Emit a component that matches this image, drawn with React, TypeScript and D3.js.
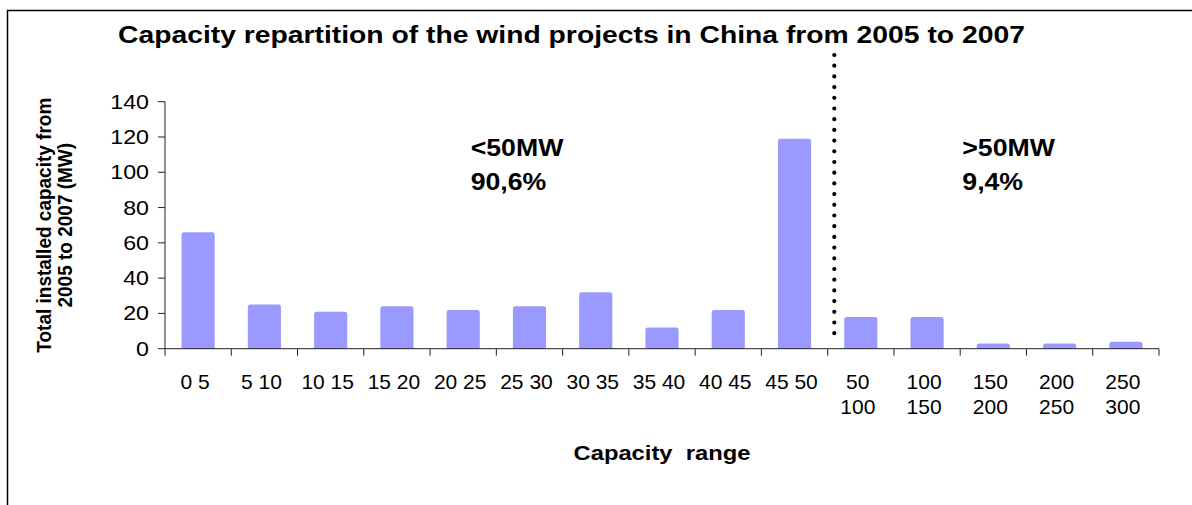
import React from "react";
import * as d3 from "d3";

// Capacity ranges (MW), each split into the lines shown under the axis
const categories = ["0-5", "5-10", "10-15", "15-20", "20-25", "25-30", "30-35", "35-40", "40-45", "45-50", "50-100", "100-150", "150-200", "200-250", "250-300"];
const categoryLines = [
  ["0 5"], ["5 10"], ["10 15"], ["15 20"], ["20 25"], ["25 30"], ["30 35"], ["35 40"], ["40 45"], ["45 50"],
  ["50", "100"], ["100", "150"], ["150", "200"], ["200", "250"], ["250", "300"],
];
// Total installed capacity 2005-2007 (MW)
const capacity = [66, 25, 21, 24, 22, 24, 32, 12, 22, 119, 18, 18, 3, 3, 4];
const yTicks = [0, 20, 40, 60, 80, 100, 120, 140];

const title = "Capacity repartition of the wind projects in China from 2005 to 2007";
const yTitleLines = ["Total installed capacity from", "2005 to 2007 (MW)"];
const xTitle = "Capacity  range";
const smallShare = ["<50MW", "90,6%"];
const largeShare = [">50MW", "9,4%"];
const splitIndex = 10; // first category above 50 MW

const W = 1192;
const H = 505;
const SX = 1.16; // horizontal text stretch
const FONT = "'Liberation Sans', Arial, sans-serif";
const BAR = "#9999ff";

function Label({ x, y, size, bold = false, anchor = "start", rotate = false, sx = SX, children }: any) {
  return (
    <text
      transform={`translate(${x},${y}) scale(${sx},1)${rotate ? " rotate(-90)" : ""}`}
      fontFamily={FONT}
      fontSize={size}
      fontWeight={bold ? "bold" : "normal"}
      textAnchor={anchor}
      fill="#000"
      style={{ whiteSpace: "pre" }}
    >
      {children}
    </text>
  );
}

function topRounded(x: number, y: number, w: number, h: number, r: number) {
  const rr = Math.min(r, h / 2, w / 2);
  return `M${x},${y + h}V${y + rr}Q${x},${y} ${x + rr},${y}H${x + w - rr}Q${x + w},${y} ${x + w},${y + rr}V${y + h}Z`;
}

export default function App() {
  const x = d3.scaleBand<string>().domain(categories).range([165, 1159]).paddingInner(0.5).paddingOuter(0.25);
  const y = d3.scaleLinear().domain([0, 140]).range([348.7, 101.7]);
  const step = x.step();
  const x0 = x.range()[0];
  const x1 = x.range()[1];
  const boundaries = d3.range(categories.length + 1).map((i) => x0 + i * step);
  const y0 = y(0);
  const splitX = boundaries[splitIndex] + step * 0.1;
  const yMid = (y(140) + y0) / 2;

  return (
    <svg width={W} height={H} style={{ position: "absolute", left: 0, top: 0, background: "#fff" }}>
      <rect x={7.5} y={10.5} width={W + 20} height={H + 20} fill="#fff" stroke="#000" strokeWidth={1.5} />

      <Label x={118} y={42.5} size={24.4} bold>{title}</Label>

      {/* bars */}
      {capacity.map((v, i) => (
        <path key={i} d={topRounded(x(categories[i])!, y(v), x.bandwidth(), y0 - y(v), 2.5)} fill={BAR} />
      ))}

      {/* y axis */}
      <line x1={x0} x2={x0} y1={y(140)} y2={y0} stroke="#222" strokeWidth={1} />
      {yTicks.map((t) => (
        <g key={t}>
          <line x1={x0 - 7} x2={x0} y1={y(t)} y2={y(t)} stroke="#222" strokeWidth={1} />
          <Label x={149} y={y(t) + 7} size={20} anchor="end">{t}</Label>
        </g>
      ))}

      {/* x axis */}
      <line x1={x0} x2={x1} y1={y0} y2={y0} stroke="#222" strokeWidth={1} />
      {boundaries.map((b, i) => (
        <line key={i} x1={b} x2={b} y1={y0} y2={y0 + 7} stroke="#222" strokeWidth={1} />
      ))}
      {categoryLines.map((lines, i) =>
        lines.map((ln, j) => (
          <Label key={`${i}-${j}`} x={x(categories[i])! + x.bandwidth() / 2 - 3} y={389 + j * 25} size={20} sx={1.05} anchor="middle">{ln}</Label>
        ))
      )}

      <Label x={(x0 + x1) / 2} y={460} size={20.5} bold anchor="middle">{xTitle}</Label>
      <Label x={51} y={yMid} size={19} bold anchor="middle" sx={1.05} rotate>{yTitleLines[0]}</Label>
      <Label x={72} y={yMid} size={19} bold anchor="middle" sx={1.05} rotate>{yTitleLines[1]}</Label>

      {/* split between small and large projects */}
      <line x1={splitX} x2={splitX} y1={55} y2={334} stroke="#000" strokeWidth={4.2} strokeLinecap="round" strokeDasharray="0 10.7" />

      <Label x={470.7} y={155.5} size={23} bold>{smallShare[0]}</Label>
      <Label x={470.7} y={190} size={23} bold>{smallShare[1]}</Label>
      <Label x={962.3} y={155.5} size={23} bold>{largeShare[0]}</Label>
      <Label x={962.3} y={190} size={23} bold>{largeShare[1]}</Label>
    </svg>
  );
}
